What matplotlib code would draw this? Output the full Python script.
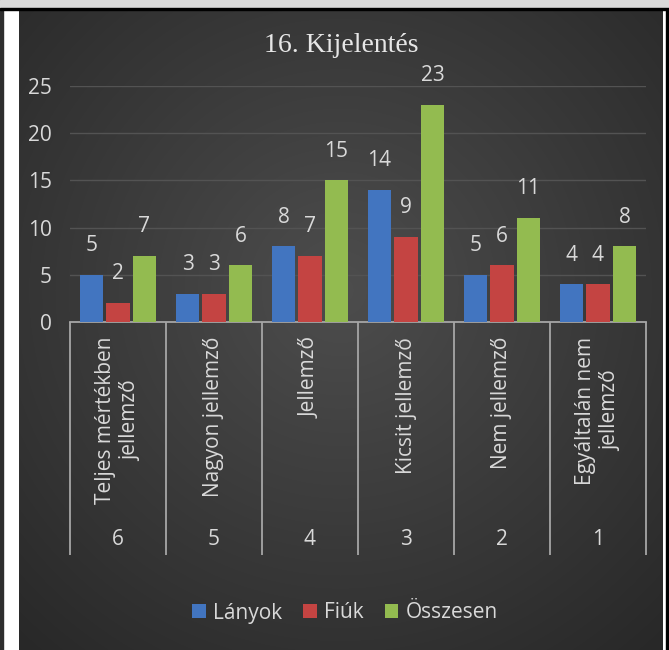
import numpy as np
import matplotlib.pyplot as plt
from matplotlib.patches import Rectangle
from matplotlib.colors import LinearSegmentedColormap

categories = ["Teljes mértékben\njellemző", "Nagyon jellemző", "Jellemző",
              "Kicsit jellemző", "Nem jellemző", "Egyáltalán nem\njellemző"]
levels = ["6", "5", "4", "3", "2", "1"]
lanyok = [5, 3, 8, 14, 5, 4]
fiuk = [2, 3, 7, 9, 6, 4]
osszesen = [7, 6, 15, 23, 11, 8]
series_names = ["Lányok", "Fiúk", "Összesen"]
colors = ["#4275c0", "#c44442", "#93bb50"]
yticks = [0, 5, 10, 15, 20, 25]

TXT = "#d9d9d9"
LINE = "#a6a6a6"
FONT = "Open Sans"
FS = 15

W, H = 669, 650
fig = plt.figure(figsize=(W / 100, H / 100), dpi=100)

# background / frame drawn in pixel coordinates
bg = fig.add_axes([0, 0, 1, 1])
bg.axis("off")
x0, x1, y0, y1 = 19, 663, 10, 650
yy, xx = np.mgrid[y0:y1, x0:x1]
r = np.hypot((xx - 340) / 480, (yy - 290) / 480)
shade = np.clip(1 - r, 0, 1)
cmap = LinearSegmentedColormap.from_list("bg", ["#282828", "#4d4d4d"])
bg.add_patch(Rectangle((0, 0), W, H, color="white", zorder=0))
bg.imshow(shade, cmap=cmap, extent=(x0, x1, y1, y0), aspect="auto",
          vmin=0, vmax=1, zorder=1)
bg.add_patch(Rectangle((0, 0), 3, H, color="#2e2e2e", zorder=2))
bg.add_patch(Rectangle((666, 0), 3, H, color="black", zorder=2))
bg.add_patch(Rectangle((0, 0), W, 8, color="#d9d9d9", zorder=2))
bg.add_patch(Rectangle((0, 8), W, 2, color="black", zorder=2))
bg.set_xlim(0, W)
bg.set_ylim(H, 0)

# plot area
ax_l, ax_r, ax_t, ax_b = 70, 646, 86, 322
ax = fig.add_axes([ax_l / W, 1 - ax_b / H, (ax_r - ax_l) / W, (ax_b - ax_t) / H])
ax.patch.set_alpha(0)
x = np.arange(len(categories))
width = 0.24
offs = [-0.276, 0, 0.276]
bars = []
for vals, off, c in zip([lanyok, fiuk, osszesen], offs, colors):
    b = ax.bar(x + off, vals, width, color=c, zorder=3)
    bars.append(b)
    for xi, v in zip(x + off, vals):
        ax.annotate(str(v), (xi, v), xytext=(0, 21), textcoords="offset points",
                    ha="center", va="center", color=TXT, fontsize=FS,
                    family=FONT, annotation_clip=False)

ax.set_xlim(-0.5, len(categories) - 0.5)
ax.set_ylim(0, 25)
ax.set_yticks(yticks)
ax.set_xticks([])
ax.grid(axis="y", color="#535353", lw=1)
ax.set_axisbelow(True)
ax.tick_params(axis="y", length=0, pad=13, labelsize=FS, labelcolor=TXT)
for lab in ax.get_yticklabels():
    lab.set_family(FONT)
for s in ["left", "right", "top"]:
    ax.spines[s].set_visible(False)
ax.spines["bottom"].set_color(LINE)
ax.spines["bottom"].set_linewidth(1.3)

# multi-level category axis
span = ax_b - ax_t
sep_bottom = (ax_b - 555) / span
lab_top = (ax_b - 337) / span
lev_y = (ax_b - 540) / span
trans = ax.get_xaxis_transform()
ax.vlines(np.arange(-0.5, len(categories)), 0, sep_bottom, transform=trans,
          colors=LINE, lw=1.3, clip_on=False)
for xi, cat, lev in zip(x, categories, levels):
    ax.text(xi, lab_top, cat, transform=trans, rotation=90, ha="center", va="top",
            multialignment="center", color=TXT, fontsize=FS, family=FONT,
            linespacing=1.3)
    ax.text(xi, lev_y, lev, transform=trans, ha="center", va="center",
            color=TXT, fontsize=FS, family=FONT)

fig.text(341 / W, 1 - 46 / H, "16. Kijelentés", ha="center", va="center",
         color="#e6e6e6", fontsize=20, family="Liberation Serif")

fig.legend(bars, series_names, loc="center", bbox_to_anchor=(345 / W, 1 - 613 / H),
           ncol=3, frameon=False, handlelength=0.65, handleheight=0.65,
           handletextpad=0.35, columnspacing=1.0, labelcolor=TXT,
           prop={"family": FONT, "size": FS})

fig.savefig("out.png", dpi=100)
